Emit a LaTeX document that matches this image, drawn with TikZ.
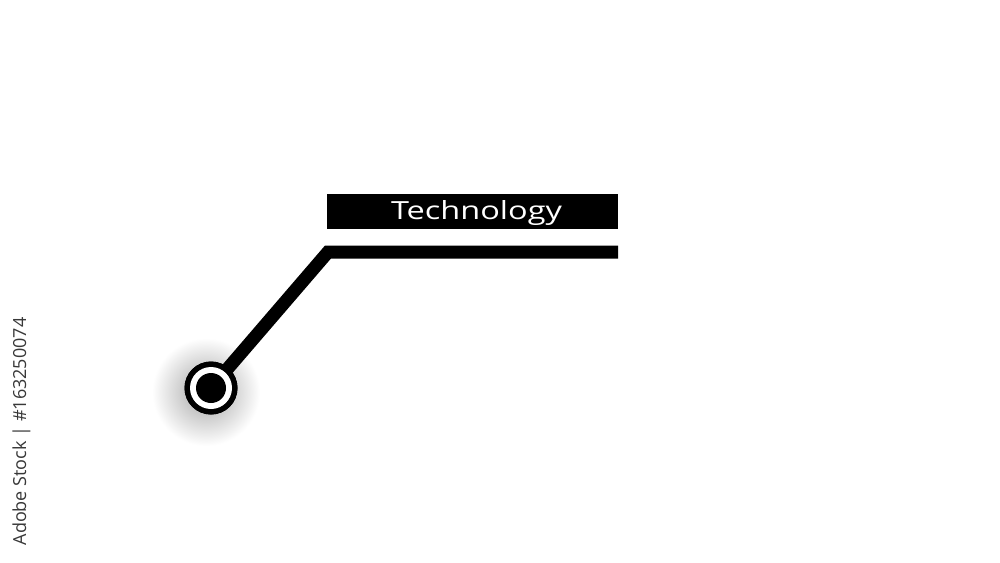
\documentclass[tikz,border=0pt]{standalone}
\usepackage{fontspec}
\setmainfont{Open Sans}
\begin{document}
\begin{tikzpicture}[x=1pt,y=-1pt,
  barbox/.style={fill=black, draw=none, inner sep=0pt, outer sep=0pt},
  tagtext/.style={text=white, font=\fontsize{25}{25}\selectfont, inner sep=0pt, xscale=1.3},
  ringdot/.style={circle, inner sep=0pt, outer sep=0pt, draw=none},
  wire/.style={line width=13pt, line join=miter, line cap=butt}]
\useasboundingbox (0,0) rectangle (1000,562);
\fill[white] (0,0) rectangle (1000,562);
% soft shadow around the dot
\shade[inner color=black!36, outer color=white, draw=none] (206,392) circle (54);
% connector
\coordinate (bend) at (328,252);
\coordinate (tail) at (618,252);
\node[ringdot, minimum size=53pt, fill=black] (dot) at (211,388) {};
\draw[wire] (dot.center) -- (bend) -- (tail);
\node[ringdot, minimum size=53pt, fill=black] (dotouter) at (211,388) {};
\node[ringdot, minimum size=42pt, fill=white] (dotring) at (dot.center) {};
\node[ringdot, minimum size=30pt, fill=black] (dotcore) at (dot.center) {};
% label bar
\node[barbox, minimum width=291pt, minimum height=35pt] (bar) at (472.5,211.5) {};
\node[tagtext, anchor=base] (label) at (476.5,219) {Technology};
% side credit
\node[rotate=90, anchor=base, text=black!78, font=\fontsize{18}{18}\selectfont, inner sep=0pt] (credit) at (26,431.5) {Adobe Stock | \#163250074};
\end{tikzpicture}
\end{document}
